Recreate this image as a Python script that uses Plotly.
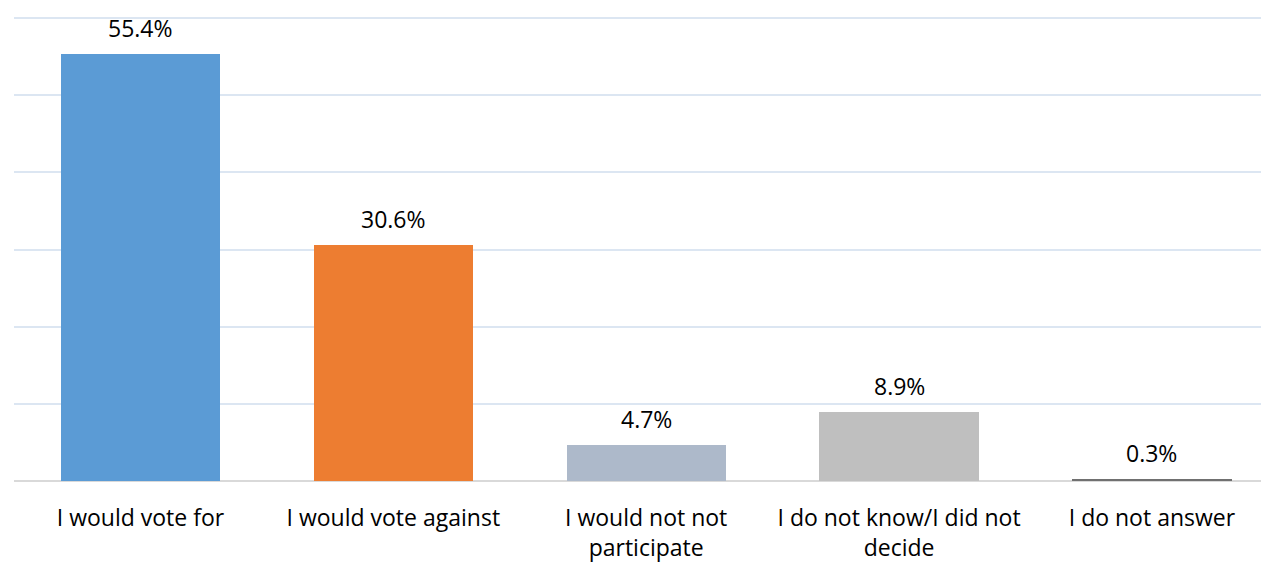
import plotly.graph_objects as go

categories = ["I would vote for", "I would vote against", "I would not not<br>participate",
              "I do not know/I did not<br>decide", "I do not answer"]
values = [55.4, 30.6, 4.7, 8.9, 0.3]
labels = ["55.4%", "30.6%", "4.7%", "8.9%", "0.3%"]
colors = ["#5B9BD5", "#ED7D31", "#ADB9CA", "#BFBFBF", "#707070"]

FONT = "Open Sans"
xs = list(range(len(categories)))

fig = go.Figure(go.Bar(
    x=xs, y=values,
    marker=dict(color=colors, line=dict(width=0)),
    width=0.63,
))

for x, v, t in zip(xs, values, labels):
    fig.add_annotation(x=x, y=v, text=t, showarrow=False, yanchor="middle",
                       yshift=26, font=dict(family=FONT, size=23, color="#000000"))

# the page body has a default 8px margin, so the figure is reduced accordingly
fig.update_layout(
    width=1261, height=555,
    margin=dict(l=6, r=0, t=9, b=78),
    plot_bgcolor="white", paper_bgcolor="white",
    showlegend=False,
    bargap=0,
)
fig.update_xaxes(
    range=[-0.5, 4.463],
    tickmode="array", tickvals=xs, ticktext=categories,
    tickfont=dict(family=FONT, size=23, color="#000000"),
    showgrid=False, showline=False, zeroline=False, ticks="",
    ticklabelstandoff=21,
)
fig.update_yaxes(
    range=[0, 60.15], tickvals=[10, 20, 30, 40, 50, 60], showticklabels=False,
    showgrid=True, gridcolor="#DCE6F2", gridwidth=1.5,
    zeroline=True, zerolinecolor="#D9D9D9", zerolinewidth=2,
    showline=False,
)

fig.write_html("out.html")
